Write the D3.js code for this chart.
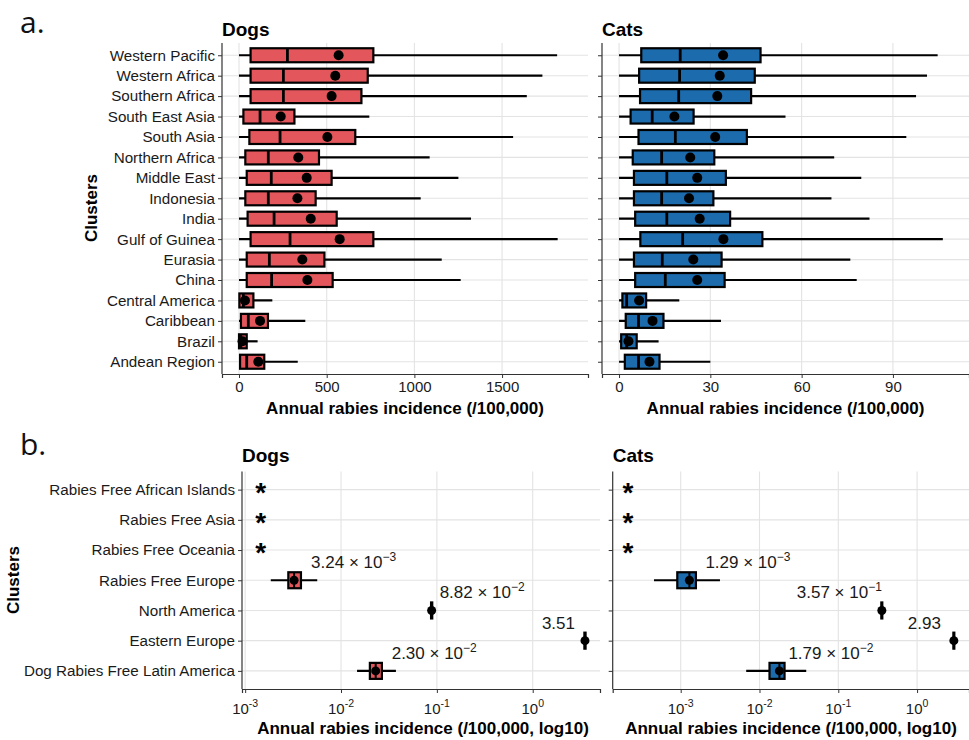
<!DOCTYPE html>
<html>
<head>
<meta charset="utf-8">
<script src="https://cdn.jsdelivr.net/npm/d3@7/dist/d3.min.js"></script>
<style>
  html, body { margin: 0; padding: 0; background: #fff; }
  svg { display: block; }
  text { font-family: "Liberation Sans", Arial, sans-serif; }
</style>
</head>
<body>
<svg id="chart" width="969" height="740"></svg>
<script>
// ---------------- DATA ----------------
// Panel a: clusters (top to bottom)
const clustersA = ["Western Pacific", "Western Africa", "Southern Africa", "South East Asia",
  "South Asia", "Northern Africa", "Middle East", "Indonesia", "India", "Gulf of Guinea",
  "Eurasia", "China", "Central America", "Caribbean", "Brazil", "Andean Region"];

// Dogs (annual rabies incidence /100,000)
const dogsMin  = [0, 0, 0, 0, 0, 0, 0, 0, 0, 0, 0, 0, 0, 0, 0, 0];
const dogsQ1   = [66, 66, 66, 25, 59, 36, 44, 36, 49, 66, 44, 44, 2, 11, 0, 6];
const dogsMed  = [276, 253, 253, 120, 234, 167, 184, 167, 200, 291, 173, 186, 25, 53, 10, 44];
const dogsMean = [568, 549, 528, 238, 504, 338, 386, 333, 409, 574, 361, 390, 34, 120, 20, 110];
const dogsQ3   = [766, 734, 698, 316, 663, 456, 528, 437, 557, 766, 487, 534, 82, 165, 44, 144];
const dogsMax  = [1814, 1730, 1641, 743, 1563, 1087, 1251, 1036, 1323, 1817, 1156, 1264, 190, 378, 106, 335];

// Cats
const catsMin  = [0, 0, 0, 0, 0, 0, 0, 0, 0, 0, 0, 0, 0, 0, 0, 0];
const catsQ1   = [7.3, 6.6, 6.9, 3.8, 6.4, 4.5, 4.9, 4.9, 5.3, 7.0, 4.9, 5.3, 1.1, 2.2, 0.7, 1.9];
const catsMed  = [20.1, 19.9, 19.6, 10.9, 18.5, 14.0, 15.7, 14.0, 15.7, 20.9, 14.2, 15.2, 2.5, 6.4, 2.5, 6.4];
const catsMean = [34.2, 33.1, 32.3, 18.2, 31.6, 23.4, 25.7, 23.0, 26.5, 34.3, 24.4, 25.7, 6.6, 11.0, 3.1, 10.0];
const catsQ3   = [46.5, 44.6, 43.4, 24.5, 42.0, 31.3, 35.1, 31.0, 36.5, 47.1, 33.7, 34.7, 8.9, 14.6, 5.8, 13.3];
const catsMax  = [104.7, 101.2, 97.6, 54.7, 94.4, 70.7, 79.6, 69.8, 82.3, 106.4, 76.0, 78.1, 19.8, 33.5, 13.0, 30.0];

const ticksADogs = [0, 500, 1000, 1500];
const ticksACats = [0, 30, 60, 90];

// Panel b: clusters (top to bottom)
const clustersB = ["Rabies Free African Islands", "Rabies Free Asia", "Rabies Free Oceania",
  "Rabies Free Europe", "North America", "Eastern Europe", "Dog Rabies Free Latin America"];
// rabies free clusters (marked with *): null values
const dogsBMin  = [null, null, null, 1.85e-3, 8.5e-2, 3.40, 1.47e-2];
const dogsBQ1   = [null, null, null, 2.82e-3, 8.7e-2, 3.46, 2.00e-2];
const dogsBMean = [null, null, null, 3.24e-3, 8.82e-2, 3.51, 2.30e-2];
const dogsBQ3   = [null, null, null, 3.82e-3, 8.95e-2, 3.56, 2.67e-2];
const dogsBMax  = [null, null, null, 5.65e-3, 9.1e-2, 3.62, 3.74e-2];
const catsBMin  = [null, null, null, 4.58e-4, 3.47e-1, 2.85, 6.78e-3];
const catsBQ1   = [null, null, null, 9.05e-4, 3.52e-1, 2.89, 1.34e-2];
const catsBMean = [null, null, null, 1.29e-3, 3.57e-1, 2.93, 1.79e-2];
const catsBQ3   = [null, null, null, 1.56e-3, 3.62e-1, 2.97, 2.08e-2];
const catsBMax  = [null, null, null, 3.15e-3, 3.67e-1, 3.01, 3.92e-2];
// asterisk positions (data units) for rabies-free clusters
const dogsStarAt = 1.45e-3;
const catsStarAt = 2.14e-4;
// annotation labels: mantissa and power of ten (null = plain number)
const dogsLabelMant = [null, null, null, "3.24", "8.82", "3.51", "2.30"];
const dogsLabelExp  = [null, null, null, "\u22123", "\u22122", null, "\u22122"];
const catsLabelMant = [null, null, null, "1.29", "3.57", "2.93", "1.79"];
const catsLabelExp  = [null, null, null, "\u22123", "\u22121", null, "\u22122"];
const ticksB = [1e-3, 1e-2, 1e-1, 1e0];
const ticksBExp = ["-3", "-2", "-1", "0"];

// ---------------- DRAW ----------------
const svg = d3.select("#chart");
const RED = "#E3575C", BLUE = "#1C6BAC";
const GRID = "#E3E3E3", AXIS = "#333333", TXT = "#1a1a1a";

svg.append("text").attr("x", 20).attr("y", 33).attr("font-size", 30)
  .style("font-family", "'Open Sans', 'DejaVu Sans', sans-serif").attr("fill", "#111").text("a.");
svg.append("text").attr("x", 20).attr("y", 455).attr("font-size", 30)
  .style("font-family", "'Open Sans', 'DejaVu Sans', sans-serif").attr("fill", "#111").text("b.");

function panelA(opt) {
  const g = svg.append("g");
  const x = d3.scaleLinear().domain(opt.domain).range([opt.x0, opt.x1]);
  const y = d3.scalePoint().domain(clustersA).range([43, 374]).padding(0.6);
  // grid
  g.selectAll(".vg").data(opt.ticks).join("line")
    .attr("x1", d => x(d)).attr("x2", d => x(d)).attr("y1", 43).attr("y2", 374)
    .attr("stroke", GRID).attr("stroke-width", 1.1);
  g.selectAll(".hg").data(clustersA).join("line")
    .attr("x1", opt.x0).attr("x2", opt.x1).attr("y1", d => y(d)).attr("y2", d => y(d))
    .attr("stroke", GRID).attr("stroke-width", 1.1);
  // axes
  const xa = g.append("g").attr("transform", `translate(0,374)`)
    .call(d3.axisBottom(x).tickValues(opt.ticks).tickSize(4).tickPadding(3).tickFormat(d3.format("d")));
  xa.select(".domain").attr("stroke", AXIS).attr("stroke-width", 1.2);
  xa.selectAll(".tick line").attr("stroke", AXIS);
  xa.selectAll(".tick text").attr("font-size", 15).attr("fill", TXT)
    .style("font-family", "'Liberation Sans', Arial, sans-serif");
  const ya = g.append("g").attr("transform", `translate(${opt.x0},0)`)
    .call(d3.axisLeft(y).tickSize(4).tickPadding(3).tickFormat(opt.labels ? (d => d) : () => ""));
  ya.select(".domain").attr("stroke", AXIS).attr("stroke-width", 1.2).attr("d", `M0,43V374`);
  ya.selectAll(".tick line").attr("stroke", AXIS);
  ya.selectAll(".tick text").attr("font-size", 15.2).attr("fill", TXT)
    .style("font-family", "'Liberation Sans', Arial, sans-serif");
  // boxes
  const h = 14;
  clustersA.forEach((c, i) => {
    const cy = y(c);
    g.append("line").attr("x1", x(opt.min[i])).attr("x2", x(opt.max[i]))
      .attr("y1", cy).attr("y2", cy).attr("stroke", "#000").attr("stroke-width", 2.2);
    g.append("rect").attr("x", x(opt.q1[i])).attr("width", x(opt.q3[i]) - x(opt.q1[i]))
      .attr("y", cy - h / 2).attr("height", h)
      .attr("fill", opt.color).attr("stroke", "#000").attr("stroke-width", 2.2);
    g.append("line").attr("x1", x(opt.med[i])).attr("x2", x(opt.med[i]))
      .attr("y1", cy - h / 2).attr("y2", cy + h / 2).attr("stroke", "#000").attr("stroke-width", 2.8);
    g.append("circle").attr("cx", x(opt.mean[i])).attr("cy", cy).attr("r", 5).attr("fill", "#000");
  });
  // titles
  g.append("text").attr("x", opt.x0).attr("y", 36).attr("font-size", 19).attr("font-weight", "bold")
    .attr("fill", "#000").text(opt.title);
  g.append("text").attr("x", (opt.x0 + opt.x1) / 2).attr("y", 414).attr("text-anchor", "middle")
    .attr("font-size", 17).attr("font-weight", "bold").attr("fill", "#000")
    .text("Annual rabies incidence (/100,000)");
}

panelA({ x0: 222, x1: 588, domain: [-97, 1990], ticks: ticksADogs, labels: true, title: "Dogs",
  color: RED, min: dogsMin, q1: dogsQ1, med: dogsMed, mean: dogsMean, q3: dogsQ3, max: dogsMax });
panelA({ x0: 602, x1: 969, domain: [-5.6, 115], ticks: ticksACats, labels: false, title: "Cats",
  color: BLUE, min: catsMin, q1: catsQ1, med: catsMed, mean: catsMean, q3: catsQ3, max: catsMax });

svg.append("text").attr("transform", "translate(97,208) rotate(-90)").attr("text-anchor", "middle")
  .attr("font-size", 17).attr("font-weight", "bold").attr("fill", "#000").text("Clusters");

function panelB(opt) {
  const g = svg.append("g");
  const top = 471.5, bot = 689;
  const x = d3.scaleLog().domain(opt.domain).range([opt.x0, opt.x1]);
  const y = d3.scalePoint().domain(clustersB).range([top, bot]).padding(0.6);
  g.selectAll(".vg").data(ticksB).join("line")
    .attr("x1", d => x(d)).attr("x2", d => x(d)).attr("y1", top).attr("y2", bot)
    .attr("stroke", GRID).attr("stroke-width", 1.1);
  g.selectAll(".hg").data(clustersB).join("line")
    .attr("x1", opt.x0).attr("x2", opt.x1).attr("y1", d => y(d)).attr("y2", d => y(d))
    .attr("stroke", GRID).attr("stroke-width", 1.1);
  const xa = g.append("g").attr("transform", `translate(0,${bot})`)
    .call(d3.axisBottom(x).tickValues(ticksB).tickSize(4).tickPadding(3).tickFormat(() => ""));
  xa.select(".domain").attr("stroke", AXIS).attr("stroke-width", 1.2);
  xa.selectAll(".tick line").attr("stroke", AXIS);
  // tick labels with superscripts
  ticksB.forEach((t, i) => {
    const tx = g.append("text").attr("x", x(t)).attr("y", bot + 25).attr("text-anchor", "middle")
      .attr("font-size", 15).attr("fill", TXT);
    tx.append("tspan").text("10");
    tx.append("tspan").attr("dy", -7).attr("font-size", 10.5).text(ticksBExp[i]);
  });
  const ya = g.append("g").attr("transform", `translate(${opt.x0},0)`)
    .call(d3.axisLeft(y).tickSize(4).tickPadding(3).tickFormat(opt.labels ? (d => d) : () => ""));
  ya.select(".domain").attr("stroke", AXIS).attr("stroke-width", 1.2).attr("d", `M0,${top}V${bot}`);
  ya.selectAll(".tick line").attr("stroke", AXIS);
  ya.selectAll(".tick text").attr("font-size", 15.2).attr("fill", TXT)
    .style("font-family", "'Liberation Sans', Arial, sans-serif");
  const h = 16;
  clustersB.forEach((c, i) => {
    const cy = y(c);
    if (opt.mean[i] === null) {
      g.append("text").attr("x", x(opt.star)).attr("y", cy + 12).attr("text-anchor", "middle")
        .attr("font-size", 28).attr("font-weight", "bold").attr("fill", "#000").text("*");
      return;
    }
    g.append("line").attr("x1", x(opt.min[i])).attr("x2", x(opt.max[i]))
      .attr("y1", cy).attr("y2", cy).attr("stroke", "#000").attr("stroke-width", 2.2);
    g.append("rect").attr("x", x(opt.q1[i])).attr("width", x(opt.q3[i]) - x(opt.q1[i]))
      .attr("y", cy - h / 2).attr("height", h)
      .attr("fill", opt.color).attr("stroke", "#000").attr("stroke-width", 2.2);
    g.append("line").attr("x1", x(opt.mean[i])).attr("x2", x(opt.mean[i]))
      .attr("y1", cy - h / 2).attr("y2", cy + h / 2).attr("stroke", "#000").attr("stroke-width", 2);
    g.append("circle").attr("cx", x(opt.mean[i])).attr("cy", cy).attr("r", 4.5).attr("fill", "#000");
    // annotation
    const a = opt.ann[i];
    const lt = g.append("text").attr("x", x(opt.mean[i]) + a.dx).attr("y", cy - 12)
      .attr("text-anchor", a.anchor).attr("font-size", 17).attr("fill", TXT);
    if (opt.exp[i] === null) {
      lt.text(opt.mant[i]);
    } else {
      lt.append("tspan").text(opt.mant[i] + " \u00d7 10");
      lt.append("tspan").attr("dy", -7).attr("font-size", 12).text(opt.exp[i]);
    }
  });
  g.append("text").attr("x", opt.x0).attr("y", 462).attr("font-size", 19).attr("font-weight", "bold")
    .attr("fill", "#000").text(opt.title);
  g.append("text").attr("x", opt.titleX).attr("y", 734).attr("text-anchor", "middle")
    .attr("font-size", 17).attr("font-weight", "bold").attr("fill", "#000")
    .text("Annual rabies incidence (/100,000, log10)");
}

panelB({ x0: 242, x1: 600, domain: [Math.pow(10, -3.033), Math.pow(10, 0.702)], labels: true,
  title: "Dogs", titleX: 423, color: RED, star: dogsStarAt,
  min: dogsBMin, q1: dogsBQ1, mean: dogsBMean, q3: dogsBQ3, max: dogsBMax,
  mant: dogsLabelMant, exp: dogsLabelExp,
  ann: [null, null, null, { dx: 17, anchor: "start" }, { dx: 8, anchor: "start" },
        { dx: -10, anchor: "end" }, { dx: 16, anchor: "start" }] });
panelB({ x0: 612.7, x1: 969, domain: [Math.pow(10, -3.863), Math.pow(10, 0.659)], labels: false,
  title: "Cats", titleX: 791, color: BLUE, star: catsStarAt,
  min: catsBMin, q1: catsBQ1, mean: catsBMean, q3: catsBQ3, max: catsBMax,
  mant: catsLabelMant, exp: catsLabelExp,
  ann: [null, null, null, { dx: 16, anchor: "start" }, { dx: 0, anchor: "end" },
        { dx: -13, anchor: "end" }, { dx: 9, anchor: "start" }] });

svg.append("text").attr("transform", "translate(19,580) rotate(-90)").attr("text-anchor", "middle")
  .attr("font-size", 17).attr("font-weight", "bold").attr("fill", "#000").text("Clusters");
</script>
</body>
</html>
